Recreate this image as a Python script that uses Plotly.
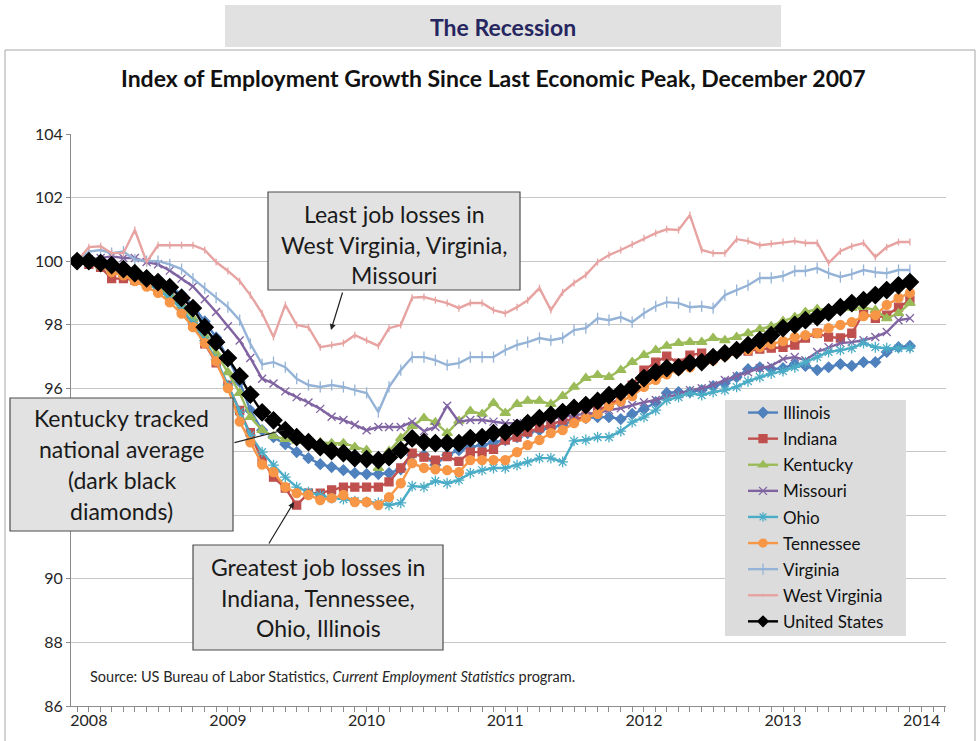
import pandas as pd
import plotly.graph_objects as go

# ---------------- data (index, Dec 2007 = 100) ----------------
dates = pd.date_range("2007-12-01", periods=73, freq="MS")
year_ticks = ["2008-01-01", "2009-01-01", "2010-01-01", "2011-01-01",
              "2012-01-01", "2013-01-01", "2014-01-01"]
year_labels = ["2008", "2009", "2010", "2011", "2012", "2013", "2014"]
y_ticks = [86, 88, 90, 92, 94, 96, 98, 100, 102, 104]
y_labels = ["86", "88", "90", "", "", "96", "98", "100", "102", "104"]

illinois = [100.0,
    100.0, 99.9, 99.85, 99.75, 99.6, 99.5, 99.35, 99.2, 98.95, 98.6, 98.1, 97.6,
    96.95, 96.2, 95.3, 94.68, 94.46, 94.24, 93.99, 93.8, 93.61, 93.52, 93.42, 93.33,
    93.3, 93.3, 93.33, 93.45, 93.9, 93.9, 93.58, 93.9, 94.05, 94.15, 94.21, 94.3,
    94.37, 94.46, 94.59, 94.68, 94.75, 94.84, 95.0, 95.06, 95.09, 95.09, 95.03, 95.19,
    95.34, 95.56, 95.85, 95.88, 95.88, 95.94, 96.07, 96.16, 96.35, 96.6, 96.66, 96.6,
    96.63, 96.76, 96.7, 96.57, 96.66, 96.76, 96.7, 96.82, 96.82, 97.14, 97.29, 97.33]

indiana = [100.0,
    99.9, 99.8, 99.45, 99.45, 99.4, 99.3, 99.1, 98.85, 98.5, 98.0, 97.4, 96.8,
    96.1, 95.3, 94.6, 93.75, 93.2, 92.86, 92.32, 92.7, 92.7, 92.8, 92.89, 92.89,
    92.89, 92.89, 93.05, 93.49, 93.96, 93.83, 93.74, 93.85, 93.7, 93.99, 93.99, 94.08,
    94.37, 94.46, 94.62, 94.75, 94.84, 95.0, 95.0, 95.12, 95.28, 95.47, 95.69, 96.1,
    96.57, 96.82, 97.01, 96.79, 97.04, 97.1, 96.95, 97.1, 97.17, 97.17, 97.23, 97.26,
    97.29, 97.36, 97.58, 97.73, 97.61, 97.58, 97.73, 98.36, 98.2, 98.3, 98.55, 98.77]

kentucky = [100.0,
    99.95, 99.85, 99.7, 99.6, 99.45, 99.3, 99.15, 98.95, 98.6, 98.2, 97.65, 97.1,
    96.5, 95.85, 95.09, 94.68, 94.49, 94.4, 94.34, 94.3, 94.3, 94.27, 94.27, 94.15,
    94.05, 93.49, 94.02, 94.43, 94.81, 95.06, 94.93, 94.59, 94.97, 95.28, 95.19, 95.53,
    95.22, 95.5, 95.6, 95.6, 95.5, 95.75, 96.04, 96.32, 96.41, 96.35, 96.57, 96.82,
    97.04, 97.2, 97.33, 97.42, 97.45, 97.45, 97.58, 97.51, 97.61, 97.73, 97.86, 97.95,
    98.11, 98.24, 98.4, 98.49, 98.49, 98.49, 98.52, 98.55, 98.46, 98.2, 98.36, 98.68]

missouri = [100.0,
    100.05, 100.1, 100.15, 100.1, 100.1, 99.97, 99.9, 99.7, 99.45, 99.2, 98.8, 98.4,
    97.95, 97.5, 96.95, 96.3, 96.15, 95.9, 95.72, 95.55, 95.35, 95.1, 95.0, 94.85,
    94.68, 94.78, 94.78, 94.78, 94.95, 94.65, 94.78, 95.45, 94.95, 95.0, 95.0, 94.95,
    94.9, 94.9, 94.95, 95.0, 95.05, 95.1, 95.15, 95.2, 95.22, 95.31, 95.37, 95.47,
    95.56, 95.63, 95.72, 95.81, 95.94, 96.0, 96.1, 96.26, 96.38, 96.5, 96.63, 96.7,
    96.92, 96.98, 96.88, 97.14, 97.29, 97.42, 97.45, 97.51, 97.61, 97.77, 98.14, 98.2]

ohio = [100.0,
    99.95, 99.85, 99.7, 99.6, 99.45, 99.3, 99.1, 98.85, 98.5, 98.05, 97.5, 96.9,
    96.1, 95.25, 94.52, 93.99, 93.58, 93.2, 92.89, 92.73, 92.64, 92.54, 92.51, 92.45,
    92.42, 92.39, 92.32, 92.39, 92.92, 92.89, 93.08, 93.01, 93.11, 93.33, 93.42, 93.49,
    93.49, 93.58, 93.68, 93.8, 93.8, 93.68, 94.34, 94.37, 94.46, 94.46, 94.65, 94.93,
    95.09, 95.31, 95.63, 95.72, 95.85, 95.78, 95.88, 95.94, 96.04, 96.22, 96.35, 96.46,
    96.54, 96.66, 96.82, 96.98, 97.14, 97.2, 97.26, 97.42, 97.29, 97.26, 97.26, 97.26]

tennessee = [100.0,
    99.95, 99.85, 99.65, 99.55, 99.37, 99.2, 99.0, 98.7, 98.35, 97.92, 97.42, 96.85,
    96.0, 94.95, 94.3, 93.6, 93.36, 92.89, 92.7, 92.64, 92.48, 92.54, 92.64, 92.42,
    92.42, 92.32, 92.57, 93.01, 93.64, 93.49, 93.45, 93.42, 93.36, 93.74, 93.74, 93.74,
    93.74, 93.99, 94.21, 94.37, 94.59, 94.68, 94.9, 95.06, 95.19, 95.44, 95.59, 95.75,
    96.04, 96.26, 96.44, 96.57, 96.66, 96.79, 96.88, 97.01, 97.14, 97.2, 97.29, 97.39,
    97.48, 97.61, 97.67, 97.73, 97.89, 97.99, 98.08, 98.27, 98.3, 98.62, 98.84, 99.0]

virginia = [100.0,
    100.3, 100.35, 100.25, 100.3, 100.05, 100.0, 100.0, 99.9, 99.75, 99.45, 99.15, 98.85,
    98.55, 98.14, 97.4, 96.75, 96.82, 96.66, 96.3, 96.1, 96.04, 96.1, 96.04, 95.94,
    95.85, 95.25, 96.04, 96.57, 96.98, 96.98, 96.88, 96.73, 96.79, 96.98, 96.98, 96.98,
    97.2, 97.36, 97.45, 97.58, 97.51, 97.58, 97.83, 97.89, 98.2, 98.14, 98.24, 98.08,
    98.36, 98.58, 98.71, 98.68, 98.55, 98.58, 98.52, 98.93, 99.09, 99.24, 99.47, 99.47,
    99.53, 99.69, 99.69, 99.78, 99.62, 99.5, 99.59, 99.72, 99.65, 99.62, 99.72, 99.72]

west_virginia = [100.0,
    100.44, 100.47, 100.25, 100.25, 100.98, 99.97, 100.5, 100.5, 100.5, 100.5, 100.35, 99.97,
    99.69, 99.37, 98.93, 98.36, 97.61, 98.62, 97.99, 97.92, 97.29, 97.36, 97.42, 97.67,
    97.51, 97.33, 97.89, 97.99, 98.85, 98.87, 98.77, 98.68, 98.52, 98.68, 98.68, 98.46,
    98.36, 98.55, 98.77, 99.15, 98.46, 99.02, 99.31, 99.56, 99.97, 100.19, 100.35, 100.53,
    100.72, 100.88, 101.0, 100.98, 101.45, 100.35, 100.25, 100.25, 100.69, 100.63, 100.5, 100.55,
    100.6, 100.63, 100.57, 100.57, 99.94, 100.31, 100.47, 100.57, 100.13, 100.44, 100.6, 100.6]

united_states = [100.00,
    100.00, 99.94, 99.87, 99.75, 99.62, 99.46, 99.34, 99.18, 98.84, 98.52, 97.92, 97.45,
    96.95, 96.38, 95.80, 95.24, 94.99, 94.68, 94.46, 94.30, 94.15, 94.02, 93.96, 93.80,
    93.77, 93.74, 93.83, 94.05, 94.42, 94.31, 94.27, 94.27, 94.27, 94.43, 94.46, 94.59,
    94.62, 94.75, 94.90, 95.06, 95.16, 95.25, 95.38, 95.47, 95.60, 95.78, 95.88, 96.03,
    96.32, 96.51, 96.63, 96.66, 96.79, 96.82, 96.98, 97.10, 97.20, 97.36, 97.51, 97.67,
    97.89, 97.99, 98.14, 98.24, 98.39, 98.55, 98.68, 98.77, 98.93, 99.09, 99.24, 99.34]

series = [
    ("Illinois", illinois, "#4F81BD", "diamond", 8, 8),
    ("Indiana", indiana, "#C0504D", "square", 8, 8),
    ("Kentucky", kentucky, "#9BBB59", "triangle-up", 9, 8),
    ("Missouri", missouri, "#8064A2", "x-thin-open", 8, 8),
    ("Ohio", ohio, "#4BACC6", "asterisk-open", 9, 8),
    ("Tennessee", tennessee, "#F79646", "circle", 9, 8),
    ("Virginia", virginia, "#95B3D7", "line-ns-open", 8, 8),
    ("West Virginia", west_virginia, "#E6A3A1", "line-ns-open", 5, 1),
    ("United States", united_states, "#000000", "diamond", 13, 8),
]

# ---------------- geometry (pixels) ----------------
W_FIG, H_FIG = 980, 741
L, R, T, B = 71, 946, 134, 706
PW, PH = R - L, B - T
FONT = "Lato, 'Open Sans', sans-serif"


def px(x):
    return (x - L) / PW


def py(y):
    return (B - y) / PH


fig = go.Figure()
for name, vals, color, sym, size, leg_size in series:
    # data trace (legend entry drawn by a proxy with a small symbol, as in the original)
    fig.add_trace(go.Scatter(
        x=dates, y=vals, name=name, mode="lines+markers",
        legendgroup=name, showlegend=False,
        line=dict(color=color, width=2.4),
        marker=dict(symbol=sym, size=size, color=color,
                    line=dict(color=color, width=1.3)),
        hoverinfo="x+y+name",
    ))
    fig.add_trace(go.Scatter(
        x=[None], y=[None], name=name, mode="lines+markers",
        legendgroup=name, showlegend=True,
        line=dict(color=color, width=2.4),
        marker=dict(symbol=sym, size=leg_size, color=color,
                    line=dict(color=color, width=1.3)),
        hoverinfo="skip",
    ))

shapes = []
annotations = []

# outer frame and banner
shapes.append(dict(type="rect", xref="paper", yref="paper",
                   x0=px(5), x1=px(975), y0=py(748), y1=py(50),
                   line=dict(color="#A6A6A6", width=1), fillcolor="rgba(0,0,0,0)",
                   layer="below"))
shapes.append(dict(type="rect", xref="paper", yref="paper",
                   x0=px(225), x1=px(781), y0=py(47), y1=py(5),
                   line=dict(width=0), fillcolor="#E1E1E1", layer="below"))
annotations.append(dict(xref="paper", yref="paper", x=px(503), y=py(27),
                        text="<b>The Recession</b>", showarrow=False,
                        font=dict(family=FONT, size=23, color="#262660"),
                        xanchor="center", yanchor="middle"))
annotations.append(dict(xref="paper", yref="paper", x=px(493), y=py(78),
                        text="<b>Index of Employment Growth Since Last Economic Peak, December 2007</b>",
                        showarrow=False,
                        font=dict(family=FONT, size=23, color="#111111"),
                        xanchor="center", yanchor="middle"))

# legend background
shapes.append(dict(type="rect", xref="paper", yref="paper",
                   x0=px(725), x1=px(906), y0=py(636), y1=py(400),
                   line=dict(width=0), fillcolor="#DCDCDC", layer="above"))

# callout boxes
BOX_FILL = "#E2E2E2"
BOX_LINE = "#4D4D4D"
boxes = [
    (268, 520, 192, 290, ["Least job losses in", "West Virginia, Virginia,", "Missouri"], 214, 30.5),
    (10, 233, 398, 531, ["Kentucky tracked", "national average", "(dark black", "diamonds)"], 418, 31),
    (193, 443, 545, 650, ["Greatest job losses in", "Indiana, Tennessee,", "Ohio, Illinois"], 567, 30.5),
]
for x0, x1, y0, y1, lines, first_y, step in boxes:
    shapes.append(dict(type="rect", xref="paper", yref="paper",
                       x0=px(x0), x1=px(x1), y0=py(y1), y1=py(y0),
                       line=dict(color=BOX_LINE, width=1.2), fillcolor=BOX_FILL,
                       layer="above"))
    for k, t in enumerate(lines):
        annotations.append(dict(xref="paper", yref="paper",
                                x=px((x0 + x1) / 2), y=py(first_y + k * step),
                                text=t, showarrow=False,
                                font=dict(family=FONT, size=23, color="#1A1A1A"),
                                xanchor="center", yanchor="middle"))

# pointer arrows (tail -> head, pixels)
arrows = [
    ((343, 291), (331, 330), 2),
    ((233, 443), (284, 430), 0),
    ((268, 545), (294, 502), 2),
]
for (tx, ty), (hx, hy), head in arrows:
    annotations.append(dict(xref="paper", yref="paper", x=px(hx), y=py(hy),
                            ax=tx - hx, ay=ty - hy, axref="pixel", ayref="pixel",
                            text="", showarrow=True, arrowhead=head,
                            arrowsize=1, arrowwidth=1.2, arrowcolor="#222222"))

# source note
annotations.append(dict(xref="paper", yref="paper", x=px(88), y=py(676),
                        text="Source: US Bureau of Labor Statistics, <i>Current Employment Statistics</i> program.",
                        showarrow=False, xanchor="left", yanchor="middle",
                        font=dict(family=FONT, size=14.5, color="#262626")))

fig.update_layout(
    width=W_FIG, height=H_FIG,
    margin=dict(l=L, r=W_FIG - R, t=T, b=H_FIG - B, pad=0, autoexpand=False),
    paper_bgcolor="white", plot_bgcolor="white",
    font=dict(family=FONT, size=16, color="#262626"),
    showlegend=True,
    legend=dict(x=px(743), y=py(395), xanchor="left", yanchor="top",
                bgcolor="rgba(0,0,0,0)", borderwidth=0,
                traceorder="grouped", tracegroupgap=1,
                font=dict(family=FONT, size=17, color="#111111"),
                itemwidth=30),
    shapes=shapes,
    annotations=annotations,
    xaxis=dict(
        type="date",
        range=["2007-11-15", "2014-03-06"],
        tickvals=year_ticks, ticktext=year_labels,
        ticks="", showgrid=False,
        showline=True, linecolor="#8C8C8C", linewidth=1,
        tickfont=dict(family=FONT, size=16, color="#262626"),
        minor=dict(dtick="M1", tick0="2007-12-01", ticks="outside", ticklen=5,
                   tickcolor="#8C8C8C", showgrid=False),
        fixedrange=True,
    ),
    yaxis=dict(
        range=[86, 104], tickvals=y_ticks, ticktext=y_labels,
        showgrid=True, gridcolor="#C6C6C6", gridwidth=1,
        showline=True, linecolor="#8C8C8C", linewidth=1,
        ticks="outside", ticklen=4, tickcolor="#8C8C8C",
        tickfont=dict(family=FONT, size=16, color="#262626"),
        zeroline=False, fixedrange=True,
    ),
)

fig.write_html("out.html", config={"displayModeBar": False},
               post_script="document.body.style.margin='0';")
